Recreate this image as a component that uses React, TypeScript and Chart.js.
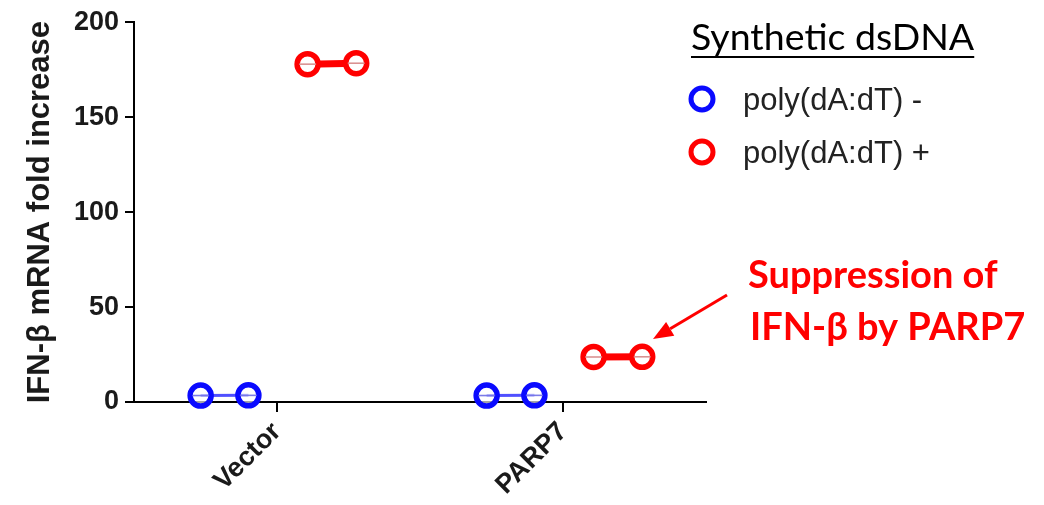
import React, { useEffect, useRef } from 'react';
import { Chart, registerables } from 'chart.js';

Chart.register(...registerables);

// ---- data ----
const categories = ['Vector', 'PARP7'];
const seriesNames = ['poly(dA:dT) -', 'poly(dA:dT) +'];
const minusValues = [
  [3.4, 3.5],
  [3.4, 3.5],
];
const plusValues = [
  [177.9, 178.4],
  [23.7, 23.8],
];
const yTickValues = [0, 50, 100, 150, 200];
const yAxisTitle = 'IFN-β mRNA fold increase';
const legendTitle = 'Synthetic dsDNA';
const annotationLines = ['Suppression of', 'IFN-β by PARP7'];

// ---- style ----
const BLUE = '#0a0aff';
const RED = '#ff0000';
const TEXT = '#1a1a1a';
const AXIS_FONT = '"Liberation Sans", Arial, sans-serif';
const CAL_FONT = 'Lato, "Open Sans", sans-serif';
// replicate offsets within a category (category units)
const minusOffsets = [-0.267, -0.1];
const plusOffsets = [0.107, 0.277];

function buildDatasets() {
  const sets: any[] = [];
  categories.forEach((_, i) => {
    sets.push({
      label: seriesNames[0],
      data: minusValues[i].map((v, j) => ({ x: i + 1 + minusOffsets[j], y: v })),
      showLine: true,
      borderColor: '#5050ff',
      borderWidth: 3,
      pointRadius: 10.5,
      pointBorderWidth: 5.5,
      pointBorderColor: BLUE,
      pointBackgroundColor: 'rgba(255,255,255,0.65)',
      meanColor: 'rgba(110,110,230,0.9)',
      clip: false,
    });
    sets.push({
      label: seriesNames[1],
      data: plusValues[i].map((v, j) => ({ x: i + 1 + plusOffsets[j], y: v })),
      showLine: true,
      borderColor: RED,
      borderWidth: 7,
      pointRadius: 10.5,
      pointBorderWidth: 5.5,
      pointBorderColor: RED,
      pointBackgroundColor: '#ffffff',
      meanColor: 'rgba(215,140,140,0.95)',
      clip: false,
    });
  });
  return sets;
}

const overlayPlugin = {
  id: 'overlay',
  afterDatasetsDraw(chart: any) {
    const ctx = chart.ctx;
    chart.data.datasets.forEach((ds: any, di: number) => {
      const pts = chart.getDatasetMeta(di).data;
      ctx.save();
      ctx.strokeStyle = ds.meanColor;
      ctx.lineWidth = 1.6;
      pts.forEach((p: any) => {
        ctx.beginPath();
        ctx.moveTo(p.x - 8.5, p.y);
        ctx.lineTo(p.x + 8.5, p.y);
        ctx.stroke();
      });
      ctx.restore();
    });
  },
  afterDraw(chart: any) {
    const ctx = chart.ctx;
    ctx.save();
    // legend title
    ctx.fillStyle = '#000';
    ctx.font = `37.5px ${CAL_FONT}`;
    ctx.textBaseline = 'alphabetic';
    ctx.textAlign = 'left';
    ctx.fillText(legendTitle, 691, 50);
    const w = ctx.measureText(legendTitle).width;
    ctx.strokeStyle = '#000';
    ctx.lineWidth = 2;
    ctx.beginPath();
    ctx.moveTo(691, 57);
    ctx.lineTo(691 + w, 57);
    ctx.stroke();

    // legend items
    const items = [
      { color: BLUE, text: seriesNames[0], cy: 99 },
      { color: RED, text: seriesNames[1], cy: 152 },
    ];
    items.forEach((it) => {
      ctx.beginPath();
      ctx.strokeStyle = it.color;
      ctx.lineWidth = 5;
      ctx.arc(702, it.cy, 11, 0, Math.PI * 2);
      ctx.stroke();
      ctx.fillStyle = '#222';
      ctx.font = `31px ${AXIS_FONT}`;
      ctx.fillText(it.text, 743, it.cy + 11);
    });

    // annotation
    ctx.fillStyle = RED;
    ctx.font = `bold 38px ${CAL_FONT}`;
    ctx.fillText(annotationLines[0], 748, 288);
    ctx.fillText(annotationLines[1], 750, 340);

    // arrow
    const x1 = 727, y1 = 295, x2 = 653, y2 = 339;
    const ang = Math.atan2(y2 - y1, x2 - x1);
    const headLen = 20, headW = 8;
    const bx = x2 - headLen * Math.cos(ang), by = y2 - headLen * Math.sin(ang);
    ctx.strokeStyle = RED;
    ctx.lineWidth = 3;
    ctx.beginPath();
    ctx.moveTo(x1, y1);
    ctx.lineTo(bx, by);
    ctx.stroke();
    ctx.fillStyle = RED;
    ctx.beginPath();
    ctx.moveTo(x2, y2);
    ctx.lineTo(bx + headW * Math.sin(ang), by - headW * Math.cos(ang));
    ctx.lineTo(bx - headW * Math.sin(ang), by + headW * Math.cos(ang));
    ctx.closePath();
    ctx.fill();
    ctx.restore();
  },
};

export default function App() {
  const ref = useRef<HTMLCanvasElement | null>(null);
  useEffect(() => {
    if (!ref.current) return;
    const chart = new Chart(ref.current, {
      type: 'scatter',
      data: { datasets: buildDatasets() },
      options: {
        animation: false,
        responsive: false,
        maintainAspectRatio: false,
        layout: { padding: { left: 22, top: 22, right: 338, bottom: 0 } },
        plugins: { legend: { display: false }, tooltip: { enabled: false } },
        scales: {
          x: {
            type: 'linear',
            min: 0.5,
            max: 2.5,
            afterBuildTicks: (s: any) => {
              s.ticks = categories.map((_, i) => ({ value: i + 1 }));
            },
            afterFit: (s: any) => {
              s.height = 103;
            },
            ticks: {
              autoSkip: false,
              minRotation: 45,
              maxRotation: 45,
              padding: 4,
              color: TEXT,
              font: { family: AXIS_FONT, size: 27, weight: 'bold' },
              callback: (v: any) => categories[Math.round(v) - 1] ?? '',
            },
            grid: { drawOnChartArea: false, drawTicks: true, tickLength: 10, color: '#000', lineWidth: 2 },
            border: { display: true, color: '#000', width: 2 },
          },
          y: {
            min: 0,
            max: 200,
            afterBuildTicks: (s: any) => {
              s.ticks = yTickValues.map((v) => ({ value: v }));
            },
            afterFit: (s: any) => {
              s.width = 112;
            },
            ticks: {
              padding: 6,
              color: TEXT,
              font: { family: AXIS_FONT, size: 27, weight: 'bold' },
            },
            grid: { drawOnChartArea: false, drawTicks: true, tickLength: 9, color: '#000', lineWidth: 2 },
            border: { display: true, color: '#000', width: 2 },
            title: {
              display: true,
              text: yAxisTitle,
              color: TEXT,
              padding: 0,
              font: { family: AXIS_FONT, size: 31, weight: 'bold', lineHeight: 1.2 },
            },
          },
        },
      } as any,
      plugins: [overlayPlugin],
    });
    return () => chart.destroy();
  }, []);
  return (
    <div style={{ position: 'absolute', left: 0, top: 0, width: 1044, height: 505, background: '#fff' }}>
      <canvas ref={ref} width={1044} height={505} style={{ width: 1044, height: 505 }} />
    </div>
  );
}
